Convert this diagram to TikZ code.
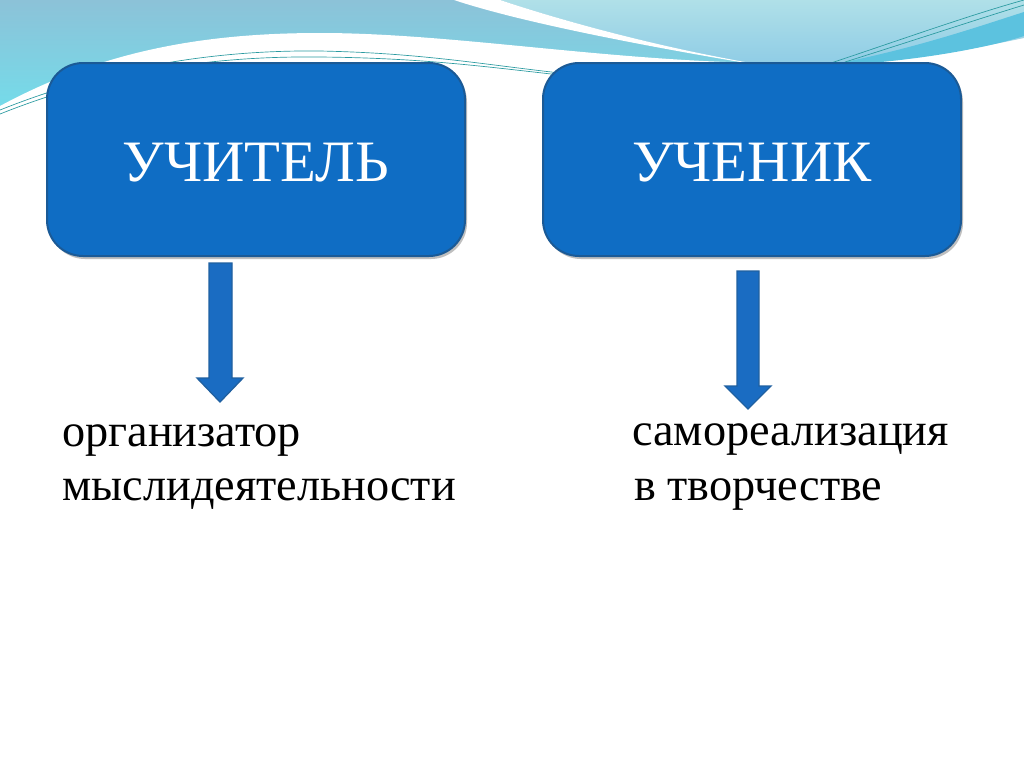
\documentclass[tikz,border=0pt]{standalone}
\usepackage{fontspec}
\setmainfont{Liberation Serif}
\definecolor{boxfill}{HTML}{0F6DC4}
\definecolor{boxedge}{HTML}{1B5A96}
\definecolor{arrfill}{HTML}{1A6CC2}
\definecolor{arredge}{HTML}{2060A0}
\definecolor{topA}{HTML}{8CC2D8}
\definecolor{topB}{HTML}{74DCEA}
\definecolor{ltA}{HTML}{B0E0E8}
\definecolor{ltB}{HTML}{90CDE6}
\definecolor{band}{HTML}{5CC2DF}
\definecolor{teal}{HTML}{2A9AA0}
\tikzset{
  roleBox/.style={draw=boxedge, line width=1.5, fill=boxfill, rounded corners=27, text=white},
  roleText/.style={font=\fontsize{44}{52}\selectfont, text=white},
  bodyText/.style={font=\fontsize{34.7}{40}\selectfont, anchor=base west, inner sep=0pt},
  blockArrow/.style={draw=arredge, line width=1, fill=arrfill},
  thinLine/.style={draw=teal, line width=0.5}
}
\begin{document}
\begin{tikzpicture}[x=0.75pt, y=-0.75pt]
\useasboundingbox (0,0) rectangle (1024,768);
\fill[white] (0,0) rectangle (1024,768);
% background waves
\shade[top color=topA, bottom color=topB] (0,0) rectangle (760,110);
\shade[top color=ltA, bottom color=ltB] (500,0) .. controls (560,20) and (650,45) .. (745,62) -- (860,62) .. controls (930,58) and (990,45) .. (1024,38) -- (1024,0) -- cycle;
\fill[white] (454,0) .. controls (520,22) and (640,45) .. (740,62) -- (745,62) .. controls (650,45) and (560,20) .. (500,0) -- cycle;
\fill[white] (0,106) .. controls (100,52) and (200,33) .. (320,33) .. controls (450,33) and (600,60) .. (760,63) -- (760,130) -- (0,130) -- cycle;
\fill[band] (840,63) .. controls (920,47) and (980,26) .. (1024,12) -- (1024,36) .. controls (990,47) and (930,58) .. (870,63) -- cycle;
\draw[thinLine] (828,64) .. controls (900,40) and (970,15) .. (1024,0);
\draw[thinLine] (845,62) .. controls (915,40) and (975,20) .. (1024,5);
\draw[thinLine] (0,110) .. controls (120,62) and (230,50) .. (320,51) .. controls (420,53) and (480,64) .. (560,73);
\draw[thinLine] (0,114) .. controls (120,66) and (230,56) .. (320,57) .. controls (420,58) and (480,66) .. (560,75);
% boxes
\path[roleBox, fill=black!25, draw=none] (49,66) rectangle (467,259);
\path[roleBox, fill=black!25, draw=none] (545,66) rectangle (963,259);
\path[roleBox] (47,63) rectangle (465,256);
\path[roleBox] (543,63) rectangle (961,256);
\node[roleText, anchor=base] (t) at (256,181) {УЧИТЕЛЬ};
\node[roleText, anchor=base] (s) at (752,181) {УЧЕНИК};
% arrows
\path[blockArrow] (209,263) -- (232,263) -- (232,378) -- (243,378) -- (220,402) -- (197,378) -- (209,378) -- cycle;
\path[blockArrow] (737,271) -- (759,271) -- (759,386) -- (771,386) -- (748,409) -- (725,386) -- (737,386) -- cycle;
% texts
\node[bodyText] (a1) at (62,446) {организатор};
\node[bodyText] (a2) at (62,500) {мыслидеятельности};
\node[bodyText] (b1) at (632,445) {самореализация};
\node[bodyText] (b2) at (634,500) {в творчестве};
\end{tikzpicture}
\end{document}
